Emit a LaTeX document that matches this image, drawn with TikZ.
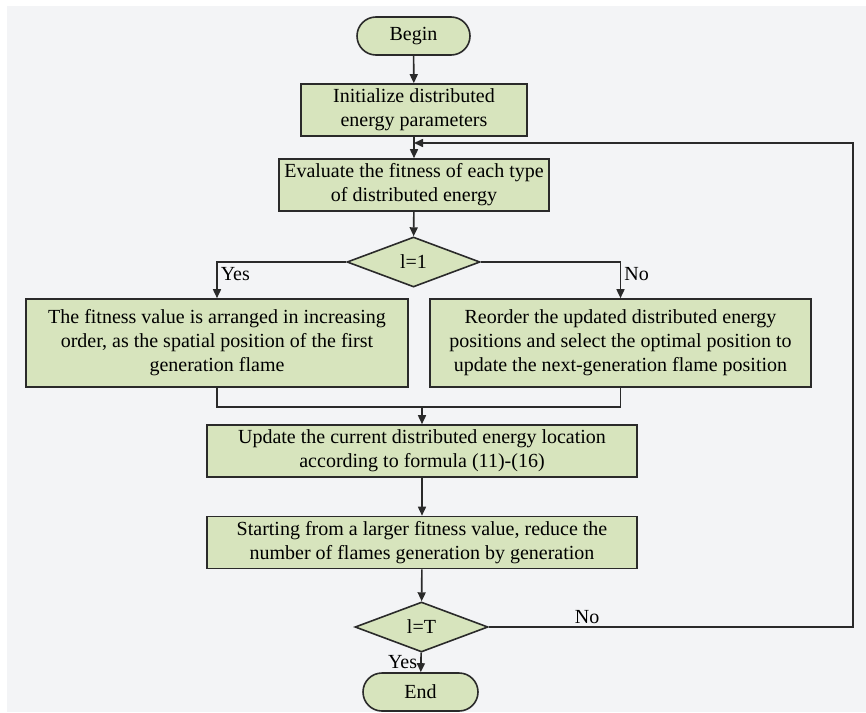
\documentclass[tikz,border=0pt]{standalone}
\usepackage{fontspec}
\setmainfont{Liberation Serif}
\usetikzlibrary{positioning, shapes.geometric, shapes.misc, arrows.meta}
\definecolor{boxgreen}{HTML}{D7E4BD}
\definecolor{pagegray}{HTML}{F3F4F6}
\definecolor{linegray}{HTML}{2A2A2A}

\begin{document}
\begin{tikzpicture}[x=0.5pt, y=-0.5pt,
  -{Triangle[length=4.5pt, width=4pt]}, line width=0.8pt, draw=linegray,
  every node/.style={font=\fontsize{10}{12}\selectfont, align=center},
  term/.style={rounded rectangle, draw=linegray, fill=boxgreen,
    minimum width=56.5pt, minimum height=19pt, inner sep=0pt},
  proc/.style={rectangle, draw=linegray, fill=boxgreen,
    minimum height=26pt, inner sep=2pt},
  test/.style={diamond, draw=linegray, fill=boxgreen,
    minimum width=66.5pt, minimum height=25pt, inner sep=0pt},
  lbl/.style={inner sep=1.5pt}]
\useasboundingbox (0,0) rectangle (866,712);
\fill[pagegray, -] (7,6) rectangle (866,712); % page background

\node[term] (begin) at (413.5,36) {Begin};
\node[proc, minimum width=113pt] (init) at (414,110)
  {Initialize distributed\\energy parameters};
\node[proc, minimum width=135pt] (eval) at (414,185)
  {Evaluate the fitness of each type\\of distributed energy};
\node[test] (lone) at (413.5,262) {l=1};
\node[proc, minimum width=191pt, minimum height=44pt] (first) at (217,343)
  {The fitness value is arranged in increasing\\order, as the spatial position of the first\\generation flame};
\node[proc, minimum width=190.5pt, minimum height=44pt] (reord) at (620.5,343)
  {Reorder the updated distributed energy\\positions and select the optimal position to\\update the next-generation flame position};
\node[proc, minimum width=215pt] (upd) at (422,451)
  {Update the current distributed energy location\\according to formula (11)-(16)};
\node[proc, minimum width=215pt] (shrink) at (422,542.5)
  {Starting from a larger fitness value, reduce the\\number of flames generation by generation};
\node[test] (lT) at (421.5,627) {l=T};
\node[term, minimum width=57.5pt] (end) at (420.5,692) {End};

\coordinate (back) at (414,143);   % loop re-entry
\coordinate (merge) at (422,407);  % branches join
\coordinate (rc) at (853,627);
\coordinate (rt) at (853,143);

\draw (begin) -- (init);
\draw (init) -- (eval);
\draw (eval) -- (lone);
\draw (lone.west) -| node[lbl, right, pos=0.67] {Yes} (first.north);
\draw (lone.east) -| node[lbl, right, pos=0.67] {No} (reord.north);
\draw[-] (first.south) |- (merge) -| (reord.south);
\draw (merge) -- (upd);
\draw (upd) -- (shrink);
\draw (shrink) -- (lT);
\draw (lT) -- node[lbl, left] {Yes} (end);
\draw (lT.east) -- node[lbl, above, pos=0.27] {No} (rc) -- (rt) -- (back);
\end{tikzpicture}
\end{document}
